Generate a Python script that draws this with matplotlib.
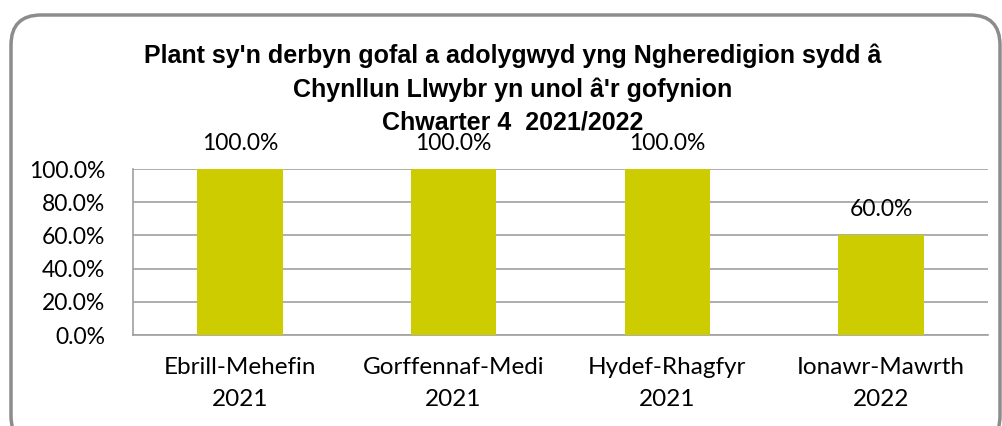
import matplotlib.pyplot as plt
from matplotlib.patches import FancyBboxPatch
import numpy as np

categories = ["Ebrill-Mehefin\n2021", "Gorffennaf-Medi\n2021", "Hydef-Rhagfyr\n2021", "Ionawr-Mawrth\n2022"]
values = [1.0, 1.0, 1.0, 0.6]
yticks = [0.0, 0.2, 0.4, 0.6, 0.8, 1.0]
title = "Plant sy'n derbyn gofal a adolygwyd yng Ngheredigion sydd â\nChynllun Llwybr yn unol â'r gofynion\nChwarter 4  2021/2022"

W, H = 1003, 426
fig = plt.figure(figsize=(W / 100, H / 100), dpi=100)
fig.patch.set_facecolor("white")

# rounded frame
frame = FancyBboxPatch((11 / W, -20 / H), (1000 - 11) / W, (411 + 20) / H,
                       boxstyle="round,pad=0,rounding_size=0.03",
                       transform=fig.transFigure, facecolor="none",
                       edgecolor="#8c8c8c", linewidth=2.5, mutation_aspect=W / H)
fig.patches.append(frame)

ax = fig.add_axes([133 / W, 1 - 335 / H, (988 - 133) / W, (335 - 169) / H])
x = np.arange(len(categories))
ax.bar(x, values, width=0.4, color="#cccc00", zorder=3)
ax.set_xlim(-0.5, len(categories) - 0.5)
ax.set_ylim(0, 1.0)
ax.set_yticks(yticks)
ax.set_yticklabels([f"{v * 100:.1f}%" for v in yticks], fontsize=16.5, family="Lato")
ax.set_xticks(x)
ax.set_xticklabels(categories, fontsize=17.5, family="Lato", linespacing=1.65)
ax.tick_params(axis="both", length=0)
ax.tick_params(axis="x", pad=16)
ax.tick_params(axis="y", pad=20)
ax.grid(axis="y", color="#a0a0a0", linewidth=1.2, zorder=0)
for s in ["top", "right"]:
    ax.spines[s].set_visible(False)
for s in ["left", "bottom"]:
    ax.spines[s].set_color("#a0a0a0")
    ax.spines[s].set_linewidth(1.2)

for xi, v in zip(x, values):
    ax.annotate(f"{v * 100:.1f}%", (xi, v), xytext=(0, 11), textcoords="offset points",
                ha="center", va="bottom", fontsize=16.5, family="Lato")

fig.text(513 / W, 1 - 89 / H, title, ha="center", va="center", fontsize=18,
         fontweight="bold", family="Liberation Sans", linespacing=1.45)

fig.savefig("out.png", dpi=100)
